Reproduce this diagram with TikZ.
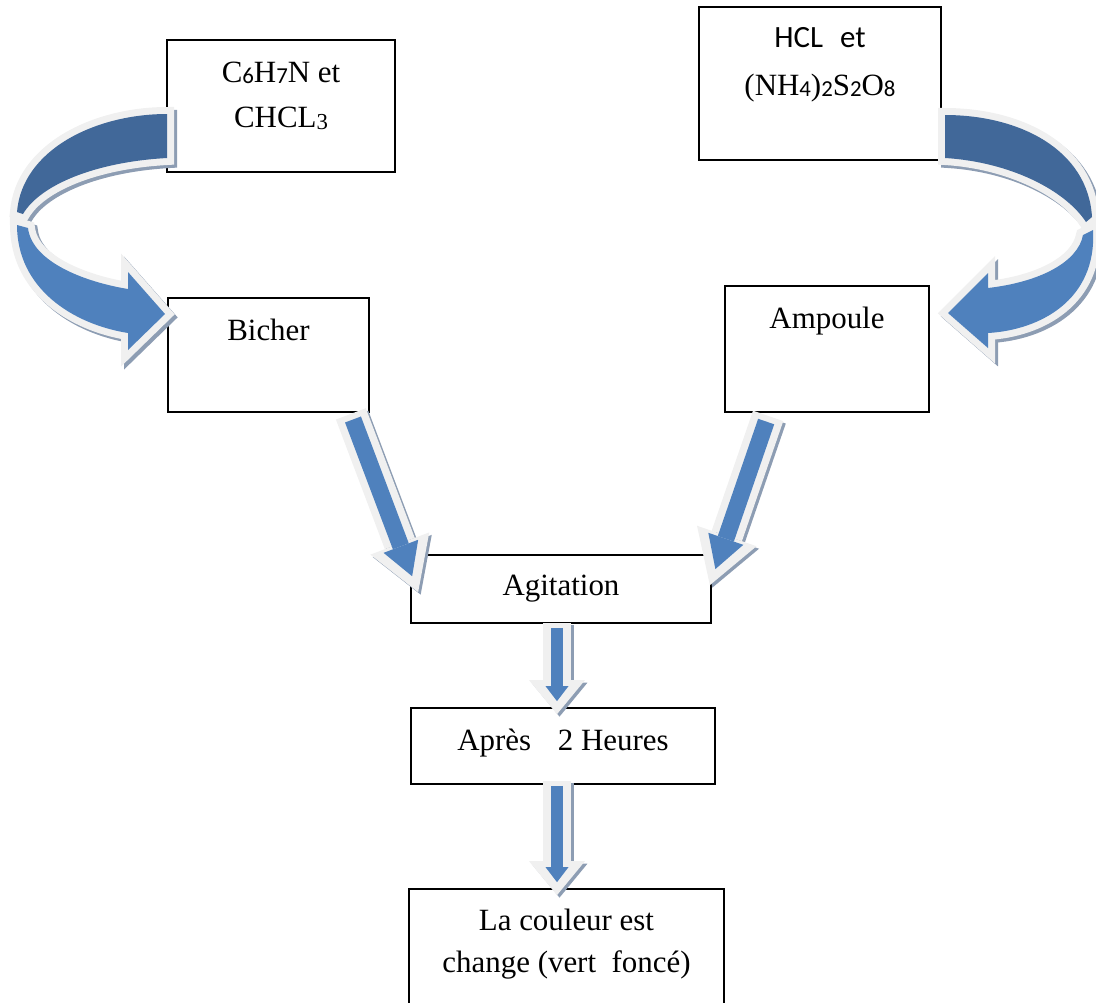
\documentclass[tikz,border=0pt]{standalone}
\usepackage{fontspec}
\setmainfont{Liberation Serif}
\newfontfamily\calib{Carlito}
\usetikzlibrary{arrows.meta}
\usetikzlibrary{calc}

\definecolor{arrowblue}{RGB}{79,129,189}
\definecolor{arrowdark}{RGB}{65,104,153}
\definecolor{arrowrim}{RGB}{240,240,240}
\definecolor{arrowshade}{RGB}{141,157,179}

\newcommand{\sub}[1]{\raisebox{-1pt}{\calib\fontsize{13}{13}\selectfont #1}}
\newcommand{\tsub}[1]{\raisebox{-1.4pt}{\fontsize{13}{13}\selectfont #1}}

\tikzset{
  box/.style={draw, line width=1pt, inner sep=0pt, align=center,
    font=\fontsize{17.6}{25.6}\selectfont},
  ribbon/.style={
    preaction={draw=arrowshade, fill=arrowshade, line width=2.8mm,
      transform canvas={shift={(3,3)}}},
    preaction={draw=arrowrim, line width=2.8mm}},
  rimv/.style={arrowrim, line width=5.6mm,
    -{Triangle[length=6.8mm, width=11.2mm, line width=0pt]}},
  bluev/.style={arrowblue, line width=2.4mm, shorten <=1mm, shorten >=2.6mm,
    -{Triangle[length=3mm, width=4.6mm, line width=0pt]}},
  rimd/.style={arrowrim, line width=6.4mm,
    -{Triangle[length=10.4mm, width=12.6mm, line width=0pt]}},
  blued/.style={arrowblue, line width=3.4mm, shorten <=1.2mm, shorten >=3.4mm,
    -{Triangle[length=6.4mm, width=7.4mm, line width=0pt]}},
  shade/.style={arrowshade, transform canvas={shift={(2.5,2.5)}}}
}

\begin{document}
\begin{tikzpicture}[x=0.02cm, y=-0.02cm]
        \clip (0,0) rectangle (1096,1002);

        \node[box, minimum width=45.6mm, text height=17.4mm, text depth=9mm] (c6) at (281,106) {C\sub{6}H\sub{7}N et\\CHCL\tsub{3}};
        \node[box, minimum width=48.4mm, text height=17.6mm, text depth=13mm, font=\fontsize{17.6}{26.8}\selectfont] (hcl) at (820,83.5) {{\calib HCL\hspace{3.4mm}et}\\(NH\sub{4})\sub{2}S\sub{2}O\sub{8}};
        \node[box, minimum width=40.2mm, text height=8.4mm, text depth=14.4mm] (bicher) at (268.5,355) {Bicher};
        \node[box, minimum width=40.8mm, text height=8.4mm, text depth=16.8mm] (ampoule) at (827,349) {Ampoule};
        \node[box, minimum width=60mm, text height=8mm, text depth=5.6mm] (agit) at (561,589) {Agitation};
        \node[box, minimum width=60.8mm, text height=8.4mm, text depth=6.8mm] (apres) at (563,746) {Après\hspace{3.8mm} 2 Heures};
        \node[box, minimum width=63mm, text height=16.6mm, text depth=8mm, font=\fontsize{17.6}{23.9}\selectfont] (couleur) at (566.5,950.5) {La couleur est\\change (vert\ \ foncé)};

        \fill[ribbon, arrowdark] (167,114) .. controls (95,114) and (22,150) .. (17,212) -- (23,214) .. controls (40,185) and (95,162) .. (167,158) -- cycle;
        \fill[ribbon, arrowblue] (17,225) .. controls (17,288) and (72,324) .. (128,333) -- (128,350) -- (165,314) -- (128,272) -- (128,289) .. controls (85,282) and (32,262) .. (28,228) -- cycle;

        \fill[ribbon, arrowdark] (945,115) .. controls (1020,115) and (1088,150) .. (1092,217) -- (1086,222) .. controls (1065,190) and (1010,162) .. (945,158) -- cycle;
        \fill[ribbon, arrowblue] (1093,230) .. controls (1097,300) and (1040,330) .. (988,333) -- (988,348) -- (948,313) -- (988,273) -- (988,288) .. controls (1040,282) and (1078,262) .. (1083,235) -- cycle;

        \coordinate (b1) at ($(bicher.south east)+(-19,1)$);
        \coordinate (b2) at ($(agit.north west)+(8,38)$);
        \coordinate (a1) at ($(ampoule.south west)+(44,3)$);
        \coordinate (a2) at ($(agit.north east)+(-2,31)$);
        \coordinate (g1) at ($(agit.south)+(-4,-1)$);
        \coordinate (g2) at ($(apres.north)+(-6,7)$);
        \coordinate (p1) at ($(apres.south)+(-6,-4)$);
        \coordinate (p2) at ($(couleur.north)+(-9.5,7)$);

        \draw[rimd, shade] (b1) -- (b2);
        \draw[rimd] (b1) -- (b2);
        \draw[blued] (b1) -- (b2);
        \draw[rimd, shade] (a1) -- (a2);
        \draw[rimd] (a1) -- (a2);
        \draw[blued] (a1) -- (a2);
        \draw[rimv, shade] (g1) -- (g2);
        \draw[rimv] (g1) -- (g2);
        \draw[bluev] (g1) -- (g2);
        \draw[rimv, shade] (p1) -- (p2);
        \draw[rimv] (p1) -- (p2);
        \draw[bluev] (p1) -- (p2);
    \end{tikzpicture}
\end{document}
